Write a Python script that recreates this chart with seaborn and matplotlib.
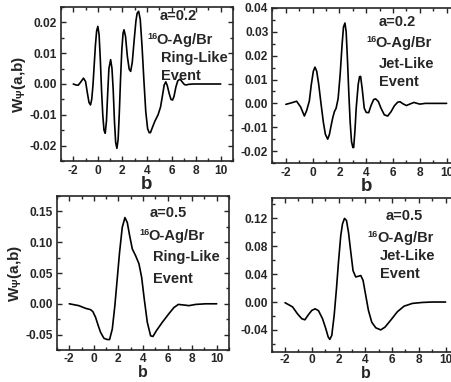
import numpy as np
import pandas as pd
import seaborn as sns
import matplotlib
matplotlib.use("Agg")
import matplotlib.pyplot as plt
from matplotlib.ticker import MultipleLocator, FormatStrFormatter

# ---- data (b, W) ----
b_ring02 = [-2.0, -1.8, -1.6, -1.4, -1.17, -1.0, -0.85, -0.72, -0.6, -0.5, -0.4, -0.3, -0.2, -0.1,
            0.0, 0.1, 0.2, 0.3, 0.4, 0.5, 0.6, 0.7, 0.8, 0.9, 1.04, 1.15, 1.25, 1.35, 1.45, 1.55,
            1.65, 1.75, 1.85, 1.95, 2.05, 2.13, 2.25, 2.4, 2.55, 2.67, 2.8, 2.95, 3.1, 3.2, 3.32,
            3.45, 3.6, 3.75, 3.9, 4.05, 4.18, 4.28, 4.45, 4.65, 4.9, 5.1, 5.25, 5.4, 5.53, 5.65,
            5.8, 5.95, 6.08, 6.2, 6.35, 6.5, 6.65, 6.75, 6.9, 7.05, 7.2, 7.4, 7.8, 8.5, 10.0]
w_ring02 = [0.0, -0.0003, -0.0004, 0.0006, 0.0019, 0.0008, -0.0030, -0.0060, -0.0068, -0.0050,
            -0.0005, 0.0060, 0.0125, 0.0172, 0.0187, 0.0160, 0.0080, -0.0020, -0.0100, -0.0150,
            -0.0160, -0.0120, -0.0030, 0.0050, 0.0079, 0.0050, -0.0020, -0.0120, -0.0190, -0.0209,
            -0.0180, -0.0090, 0.0020, 0.0110, 0.0165, 0.0176, 0.0155, 0.0090, 0.0048, 0.0041,
            0.0070, 0.0140, 0.0205, 0.0230, 0.0236, 0.0210, 0.0120, 0.0010, -0.0090, -0.0145,
            -0.0158, -0.0158, -0.0140, -0.0120, -0.0100, -0.0075, -0.0040, -0.0003, 0.0007, -0.0005,
            -0.0030, -0.0050, -0.0052, -0.0040, -0.0010, 0.0010, 0.0015, 0.0013, 0.0005, -0.0002,
            -0.0003, -0.0001, 0.0, 0.0, 0.0]

b_jet02 = [-2.0, -1.6, -1.2, -0.9, -0.62, -0.45, -0.25, -0.1, 0.05, 0.17, 0.3, 0.45, 0.62, 0.8,
           0.95, 1.12, 1.25, 1.37, 1.5, 1.62, 1.75, 1.9, 2.05, 2.2, 2.3, 2.41, 2.5, 2.6, 2.7, 2.8,
           2.9, 3.0, 3.06, 3.15, 3.25, 3.4, 3.5, 3.58, 3.7, 3.85, 4.0, 4.18, 4.35, 4.55, 4.7, 4.9,
           5.1, 5.35, 5.6, 5.85, 6.1, 6.35, 6.52, 6.75, 7.0, 7.25, 7.56, 7.8, 8.0, 8.4, 10.0]
w_jet02 = [-0.0004, 0.0002, 0.0009, -0.0015, -0.0053, -0.0030, 0.0010, 0.0080, 0.0135, 0.0152,
           0.0135, 0.0080, 0.0000, -0.0080, -0.0130, -0.0150, -0.0130, -0.0095, -0.0060, -0.0035,
           -0.0020, 0.0020, 0.0120, 0.0250, 0.0320, 0.0337, 0.0300, 0.0180, 0.0040, -0.0080,
           -0.0160, -0.0185, -0.0185, -0.0120, -0.0020, 0.0080, 0.0112, 0.0113, 0.0060, -0.0020,
           -0.0038, -0.0039, -0.0010, 0.0016, 0.0019, 0.0008, -0.0020, -0.0048, -0.0053, -0.0035,
           -0.0010, 0.0005, 0.0007, -0.0002, -0.0009, -0.0003, 0.0004, 0.0000, -0.0003, 0.0, 0.0]

b_ring05 = [-2.0, -1.22, -0.68, -0.27, -0.08, 0.14, 0.35, 0.54, 0.82, 1.09, 1.28, 1.5, 1.71, 1.9,
            2.09, 2.31, 2.53, 2.72, 2.91, 3.13, 3.4, 3.67, 3.89, 4.1, 4.35, 4.62, 4.81, 5.08,
            5.57, 6.11, 6.52, 6.88, 7.34, 7.74, 8.29, 9.1, 10.0]
w_ring05 = [0.0, -0.003, -0.0073, -0.0095, -0.0127, -0.022, -0.035, -0.046, -0.056, -0.058,
            -0.058, -0.041, -0.003, 0.040, 0.083, 0.124, 0.140, 0.132, 0.111, 0.089, 0.078,
            0.065, 0.043, 0.008, -0.030, -0.052, -0.053, -0.044, -0.030, -0.016, -0.006,
            -0.001, -0.002, -0.003, -0.001, 0.0, 0.0]

b_jet05 = [-2.0, -1.44, -1.07, -0.75, -0.52, -0.25, 0.0, 0.25, 0.5, 0.8, 1.04, 1.22, 1.34, 1.49,
           1.67, 1.84, 1.99, 2.16, 2.29, 2.44, 2.59, 2.74, 2.91, 3.08, 3.28, 3.48, 3.66, 3.83,
           4.03, 4.23, 4.48, 4.78, 5.15, 5.47, 5.9, 6.39, 6.89, 7.51, 8.26, 9.0, 10.0]
w_jet05 = [-0.001, -0.007, -0.017, -0.024, -0.0255, -0.018, -0.012, -0.0097, -0.0125, -0.024,
           -0.038, -0.050, -0.0536, -0.048, -0.019, 0.019, 0.057, 0.095, 0.112, 0.120, 0.117,
           0.100, 0.072, 0.045, 0.036, 0.037, 0.038, 0.031, 0.0094, -0.012, -0.029, -0.037,
           -0.040, -0.036, -0.026, -0.014, -0.006, -0.002, -0.0006, 0.0, 0.0]

sns.set_style("ticks")
plt.rcParams["font.family"] = ["Liberation Sans", "DejaVu Sans"]
plt.rcParams["font.weight"] = "bold"
plt.rcParams["axes.unicode_minus"] = False
plt.rcParams["mathtext.fontset"] = "custom"
plt.rcParams["mathtext.rm"] = "Liberation Sans:bold"
plt.rcParams["mathtext.it"] = "Liberation Sans:bold"
plt.rcParams["mathtext.bf"] = "Liberation Sans:bold"

W, H = 452, 382
fig = plt.figure(figsize=(W / 100, H / 100), dpi=100)


def add_ax(left, top, right, bottom):
    return fig.add_axes([left / W, 1 - bottom / H, (right - left) / W, (bottom - top) / H])


panels = [
    # box (l, t, r, b), data, ylim, y major, y minor, words, left column?, xlabel size, pad, xtick pad
    ((61, 7, 233, 161), b_ring02, w_ring02, (-0.025, 0.025), 0.01, 0.005,
     [("a=0.2", 160, 16.5), ("16", 147, 40), ("Ring-Like", 161, 58), ("Event", 161, 76)],
     True, 13.5, -1, 3),
    ((272.5, 8, 460, 163), b_jet02, w_jet02, (-0.025, 0.04), 0.01, 0.005,
     [("a=0.2", 378.7, 21.7), ("16", 366, 43.3), ("Jet-Like", 378.7, 64.3), ("Event", 379.3, 81.7)],
     False, 13.5, -1, 3),
    ((57, 196, 229, 350), b_ring05, w_ring05, (-0.075, 0.175), 0.05, 0.025,
     [("a=0.5", 149.3, 212.7), ("16", 139.3, 236), ("Ring-Like", 152.7, 256.7), ("Event", 152.7, 278.7)],
     True, 11.5, 0, 2),
    ((271.7, 197.5, 459, 351.5), b_jet05, w_jet05, (-0.071, 0.15), 0.04, 0.02,
     [("a=0.5", 385.3, 216), ("16", 367.7, 237.7), ("Jet-Like", 380, 256), ("Event", 380, 273.7)],
     False, 11.5, 0, 2),
]

for box, bx, wy, ylim, ymaj, ymin, words, left_col, xsize, xpad, tpad in panels:
    ax = add_ax(*box)
    df = pd.DataFrame({"b": bx, "W": wy})
    sns.lineplot(data=df, x="b", y="W", ax=ax, color="black", lw=1.2, sort=False)
    ax.set_xlim(-3, 11)
    ax.set_ylim(*ylim)
    ax.set_xticks([-2, 0, 2, 4, 6, 8, 10])
    ax.xaxis.set_minor_locator(MultipleLocator(1))
    ax.yaxis.set_major_locator(MultipleLocator(ymaj))
    ax.yaxis.set_minor_locator(MultipleLocator(ymin))
    ax.yaxis.set_major_formatter(FormatStrFormatter("%.2f"))
    ax.tick_params(which="both", direction="in", top=True, right=True, width=1.0,
                   labelsize=8.6, pad=3)
    ax.tick_params(axis="x", pad=tpad)
    ax.tick_params(which="major", length=3.5)
    ax.tick_params(which="minor", length=2)
    for lab in ax.get_xticklabels() + ax.get_yticklabels():
        lab.set_fontweight("bold")
    for sp in ax.spines.values():
        sp.set_linewidth(1.2)
    ax.set_xlabel("b", fontsize=xsize, fontweight="bold", labelpad=xpad)
    if left_col:
        ax.set_ylabel(r"W$_{\Psi}$(a,b)", fontsize=11, fontweight="bold", labelpad=1)
    else:
        ax.set_ylabel("")
    for txt, x, y in words:
        if txt == "16":
            fig.text(x / W, 1 - (y - 3.5) / H, "16", fontsize=6.5, fontweight="bold",
                     ha="left", va="center")
            fig.text((x + 9.5) / W, 1 - y / H, "O-Ag/Br", fontsize=10.5, fontweight="bold",
                     ha="left", va="center")
        else:
            fig.text(x / W, 1 - y / H, txt, fontsize=10.5, fontweight="bold",
                     ha="left", va="center")

fig.savefig("out.png", dpi=100)
